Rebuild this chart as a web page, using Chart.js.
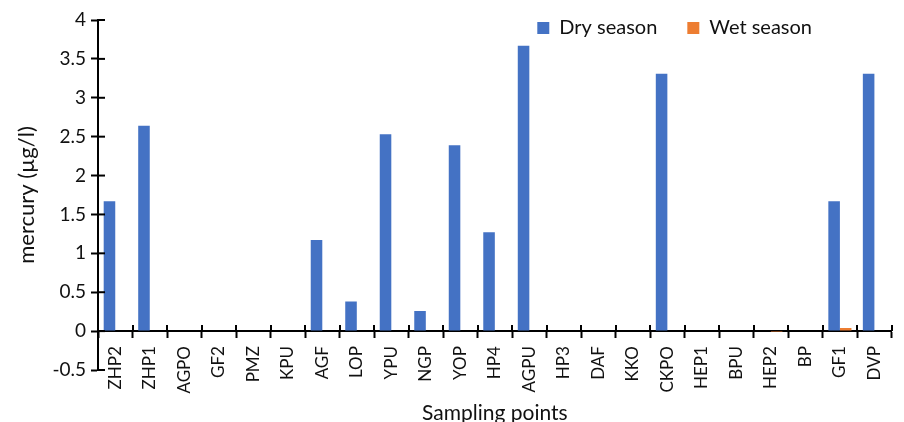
<!DOCTYPE html>
<html>
<head>
<meta charset="utf-8">
<script src="https://cdn.jsdelivr.net/npm/chart.js@4.4.0/dist/chart.umd.min.js"></script>
<style>
  html, body { margin: 0; padding: 0; background: #fff; }
  #wrap { width: 904px; height: 422px; }
</style>
</head>
<body>
<div id="wrap"><canvas id="chart" width="904" height="422"></canvas></div>
<script>
const categories = ['ZHP2', 'ZHP1', 'AGPO', 'GF2', 'PMZ', 'KPU', 'AGF', 'LOP', 'YPU', 'NGP', 'YOP', 'HP4',
  'AGPU', 'HP3', 'DAF', 'KKO', 'CKPO', 'HEP1', 'BPU', 'HEP2', 'BP', 'GF1', 'DVP'];

const drySeason = [1.67, 2.64, 0, 0, 0, 0, 1.17, 0.38, 2.53, 0.26, 2.39, 1.27,
  3.67, 0, 0, 0, 3.31, 0, 0, 0, 0, 1.67, 3.31];

const wetSeason = [0, 0, 0, 0, 0, 0, 0, 0, 0, 0, 0, 0,
  0, 0, 0, 0, 0, 0, 0, -0.01, 0, 0.04, 0];

const yMin = -0.5;
const yMax = 4;
const yStep = 0.5;

const FONT = 'Lato, "Open Sans", sans-serif';
const INK = '#111';
const LEGEND_PAD = 30;

// Excel style tick marks crossing the axis (inner half)
const crossTicks = {
  id: 'crossTicks',
  afterDraw(chart) {
    const { ctx, scales: { x, y } } = chart;
    ctx.save();
    ctx.strokeStyle = '#000';
    ctx.lineWidth = 2;
    const y0 = y.getPixelForValue(0);
    const step = (x.right - x.left) / categories.length;
    for (let i = 0; i <= categories.length; i++) {
      const px = Math.round(x.left + i * step);
      ctx.beginPath();
      ctx.moveTo(px, y0 - 6);
      ctx.lineTo(px, y0);
      ctx.stroke();
    }
    y.ticks.forEach(t => {
      const py = y.getPixelForValue(t.value);
      ctx.beginPath();
      ctx.moveTo(y.right, py);
      ctx.lineTo(y.right + 7, py);
      ctx.stroke();
    });
    ctx.restore();
  }
};

// legend overlaps the top of the plot, left of the right edge
const moveLegend = {
  id: 'moveLegend',
  afterLayout(chart) {
    const lg = chart.legend;
    const h = lg.bottom - lg.top;
    lg.top = 27 - h / 2 - 9;
    lg.bottom = lg.top + h;
    lg.right = 812 + LEGEND_PAD;
  }
};

new Chart(document.getElementById('chart'), {
  type: 'bar',
  data: {
    labels: categories,
    datasets: [
      {
        label: 'Dry season',
        data: drySeason,
        backgroundColor: '#4472C4',
        borderWidth: 0,
      },
      {
        label: 'Wet season',
        data: wetSeason,
        backgroundColor: '#ED7D31',
        borderWidth: 0,
      },
    ],
  },
  options: {
    responsive: false,
    animation: false,
    layout: { padding: { left: 0, right: 9, top: -40, bottom: 52 } },
    datasets: { bar: { categoryPercentage: 0.67, barPercentage: 1 } },
    plugins: {
      tooltip: { enabled: false },
      legend: {
        position: 'top',
        align: 'end',
        labels: {
          boxWidth: 12,
          boxHeight: 12,
          padding: LEGEND_PAD,
          color: INK,
          font: { family: FONT, size: 20 },
        },
      },
    },
    scales: {
      x: {
        position: { y: 0 },
        grid: {
          offset: true,
          drawOnChartArea: false,
          tickLength: 6,
          tickWidth: 2,
          tickColor: '#000',
        },
        border: { color: '#000', width: 2 },
        ticks: {
          maxRotation: 90,
          minRotation: 90,
          autoSkip: false,
          padding: 9,
          color: INK,
          font: { family: FONT, size: 17 },
        },
        title: {
          display: true,
          text: 'Sampling points',
          color: INK,
          padding: { top: -2 },
          font: { family: FONT, size: 21 },
        },
      },
      y: {
        min: yMin,
        max: yMax,
        afterFit(s) { s.width = 98; },
        grid: {
          drawOnChartArea: false,
          tickLength: 7,
          tickWidth: 2,
          tickColor: '#000',
        },
        border: { color: '#000', width: 2 },
        ticks: {
          stepSize: yStep,
          padding: 5,
          color: INK,
          font: { family: FONT, size: 19 },
          callback: v => String(Number(v.toFixed(1))),
        },
        title: {
          display: true,
          text: 'mercury (µg/l)',
          color: INK,
          padding: { top: 14 },
          font: { family: FONT, size: 22 },
        },
      },
    },
  },
  plugins: [crossTicks, moveLegend],
});
</script>
</body>
</html>
